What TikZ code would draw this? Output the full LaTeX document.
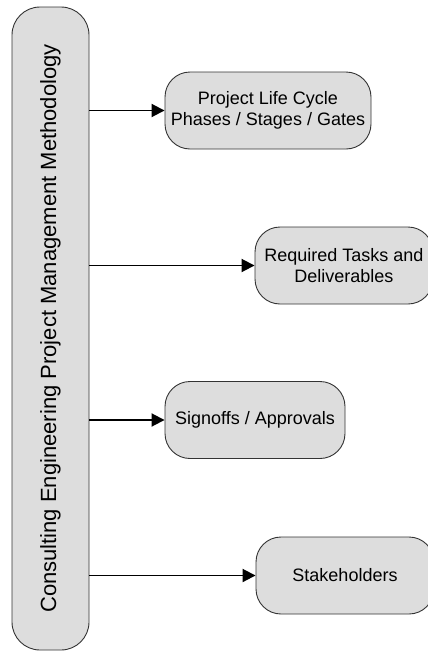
\documentclass[tikz,border=0pt]{standalone}
\usepackage{fontspec}
\setmainfont{Liberation Sans}
\usetikzlibrary{arrows.meta}
\definecolor{boxfill}{HTML}{DDDDDD}
\definecolor{boxline}{HTML}{333333}
\begin{document}
\begin{tikzpicture}[x=1pt,y=-1pt,
  rbox/.style={draw=boxline,line width=0.9pt,fill=boxfill,rounded corners=25pt,
    minimum height=77pt,align=center,inner sep=0pt,
    font=\fontsize{18}{21}\selectfont},
  mainbox/.style={draw=boxline,line width=0.9pt,fill=boxfill,rounded corners=28pt,
    minimum width=643pt,minimum height=77pt,inner sep=0pt,rotate=90,
    font=\fontsize{22}{26}\selectfont},
  arr/.style={line width=1.9pt,-{Triangle[length=13pt,width=13pt]}}]
\useasboundingbox (0,0) rectangle (428,651);
\node[mainbox] (main) at (50.5,328.5) {Consulting Engineering Project Management Methodology};
\node[rbox,minimum width=206pt] (b1) at (268,110.5) {Project Life Cycle\\Phases / Stages / Gates};
\node[rbox,minimum width=178pt] (b2) at (344,265.5) {Required Tasks and\\Deliverables};
\node[rbox,minimum width=180pt] (b3) at (255,420) {Signoffs / Approvals};
\node[rbox,minimum width=178pt] (b4) at (345,575.5) {Stakeholders};
\foreach \b in {b1,b2,b3,b4}
  \draw[arr] (main.south |- \b.west) -- (\b.west);
\end{tikzpicture}
\end{document}
